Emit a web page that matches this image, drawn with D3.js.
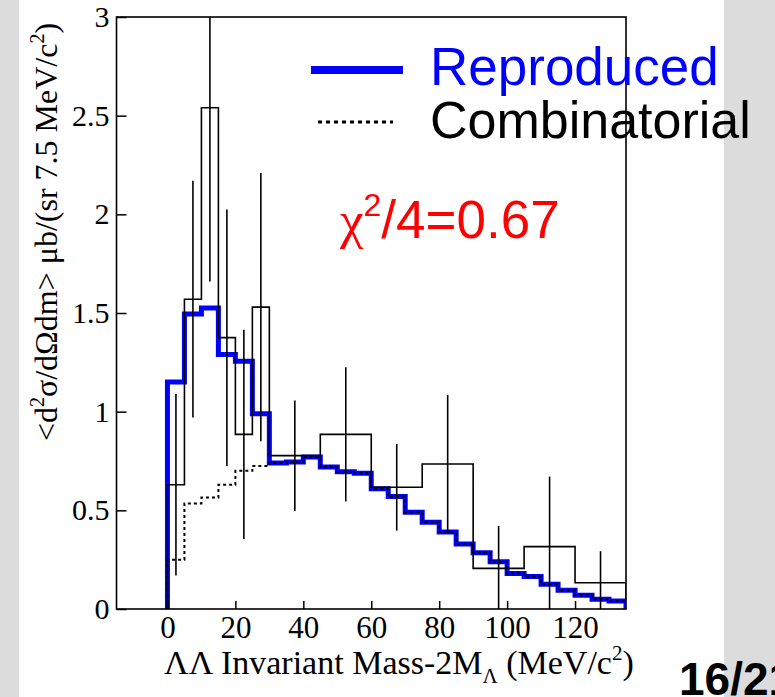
<!DOCTYPE html>
<html>
<head>
<meta charset="utf-8">
<script src="https://cdn.jsdelivr.net/npm/d3@7"></script>
<style>
  body { margin: 0; background: #fff; }
  svg { display: block; }
  .serif { font-family: "Liberation Serif", "Times New Roman", serif; }
  .sans { font-family: "Liberation Sans", Arial, sans-serif; }
</style>
</head>
<body>
<div id="chart"></div>
<script>
// Measured data: bin edges (MeV/c^2), cross sections, errors
const dataEdges = [0, 5, 10, 15, 20, 25, 30, 45, 60, 75, 90, 105, 120, 135];
const dataValues = [0.63, 1.57, 2.54, 1.375, 0.885, 1.53, 0.777, 0.885, 0.617, 0.735, 0.206, 0.316, 0.133];
const dataErrors = [0.46, 0.60, 0.88, 0.65, 0.53, 0.68, 0.28, 0.34, 0.22, 0.35, 0.215, 0.355, 0.16];

// Model curves, 5 MeV bins from 0 to 135
const modelEdges = d3.range(0, 140, 5);
const reproduced = [1.15, 1.495, 1.525, 1.29, 1.255, 0.99, 0.74, 0.745, 0.77, 0.72, 0.695, 0.688,
    0.61, 0.57, 0.49, 0.44, 0.39, 0.33, 0.285, 0.24, 0.18, 0.165, 0.125, 0.095, 0.07, 0.05, 0.04];
const combinatorial = [0.25, 0.535, 0.565, 0.63, 0.70, 0.725, 0.74, 0.745, 0.77, 0.72, 0.695, 0.688,
    0.61, 0.57, 0.49, 0.44, 0.39, 0.33, 0.285, 0.24, 0.18, 0.165, 0.125, 0.095, 0.07, 0.05, 0.04];

const xTicks = [0, 20, 40, 60, 80, 100, 120];
const yTicks = [0, 0.5, 1, 1.5, 2, 2.5, 3];

const W = 775, H = 697;
const frame = { left: 116.5, right: 626, top: 17, bottom: 609 };

const svg = d3.select("#chart").append("svg")
    .attr("width", W)
    .attr("height", H);

// slide background: grey strips left and right
svg.append("rect").attr("x", 0).attr("y", 0).attr("width", 19).attr("height", H).attr("fill", "#dcdcdc");
svg.append("rect").attr("x", 724).attr("y", 0).attr("width", W - 724).attr("height", H).attr("fill", "#dcdcdc");

const x = d3.scaleLinear().domain([-15, 135]).range([frame.left, frame.right]);
const y = d3.scaleLinear().domain([0, 3]).range([frame.bottom, frame.top]);

svg.append("clipPath").attr("id", "plotclip")
    .append("rect")
    .attr("x", frame.left).attr("y", frame.top)
    .attr("width", frame.right - frame.left)
    .attr("height", frame.bottom - frame.top);

const plot = svg.append("g").attr("clip-path", "url(#plotclip)");

// turn edges + contents into a closed step outline
function steps(edges, vals) {
    const pts = [[edges[0], 0]];
    vals.forEach((v, i) => {
        pts.push([edges[i], v]);
        pts.push([edges[i + 1], v]);
    });
    pts.push([edges[edges.length - 1], 0]);
    return pts;
}

const line = d3.line().x(d => x(d[0])).y(d => y(d[1]));

// Reproduced (blue, thick)
plot.append("path")
    .attr("d", line(steps(modelEdges, reproduced)))
    .attr("fill", "none")
    .attr("stroke", "#0000ff")
    .attr("stroke-width", 5)
    .attr("stroke-linejoin", "miter");

// Data histogram
plot.append("path")
    .attr("d", line(steps(dataEdges, dataValues)))
    .attr("fill", "none")
    .attr("stroke", "#000")
    .attr("stroke-width", 1.6);

// Error bars
plot.selectAll(".err")
    .data(dataValues)
    .enter().append("line")
    .attr("class", "err")
    .attr("x1", (d, i) => x((dataEdges[i] + dataEdges[i + 1]) / 2))
    .attr("x2", (d, i) => x((dataEdges[i] + dataEdges[i + 1]) / 2))
    .attr("y1", (d, i) => y(d + dataErrors[i]))
    .attr("y2", (d, i) => y(d - dataErrors[i]))
    .attr("stroke", "#000")
    .attr("stroke-width", 1.6);

// Combinatorial (dotted, on top)
plot.append("path")
    .attr("d", line(steps(modelEdges, combinatorial)))
    .attr("fill", "none")
    .attr("stroke", "#000")
    .attr("stroke-width", 2)
    .attr("stroke-dasharray", "3,3");

// Axes with inward ticks
const yAxis = svg.append("g")
    .attr("transform", `translate(${frame.left},0)`)
    .call(d3.axisLeft(y).tickValues(yTicks).tickFormat(d => d)
        .tickSizeInner(-10).tickSizeOuter(0).tickPadding(7));
yAxis.select(".domain").remove();
yAxis.selectAll("line").attr("stroke", "#000").attr("stroke-width", 1.5);
yAxis.selectAll("text").attr("class", "serif").attr("font-size", 30).attr("fill", "#000");

const xAxis = svg.append("g")
    .attr("transform", `translate(0,${frame.bottom})`)
    .call(d3.axisBottom(x).tickValues(xTicks).tickFormat(d => d)
        .tickSizeInner(-8).tickSizeOuter(0).tickPadding(7));
xAxis.select(".domain").remove();
xAxis.selectAll("line").attr("stroke", "#000").attr("stroke-width", 1.5);
xAxis.selectAll("text").attr("class", "serif").attr("font-size", 31).attr("fill", "#000");

// Frame
svg.append("rect")
    .attr("x", frame.left).attr("y", frame.top)
    .attr("width", frame.right - frame.left)
    .attr("height", frame.bottom - frame.top)
    .attr("fill", "none")
    .attr("stroke", "#000")
    .attr("stroke-width", 1.6);

// Axis titles
const xt = svg.append("text").attr("class", "serif")
    .attr("x", 164).attr("y", 674)
    .attr("font-size", 34).attr("fill", "#000");
xt.append("tspan").text("ΛΛ Invariant Mass-2M");
xt.append("tspan").attr("font-size", 21).attr("dy", 9).text("Λ");
xt.append("tspan").attr("dy", -9).text(" (MeV/c");
xt.append("tspan").attr("font-size", 21).attr("dy", -14).text("2");
xt.append("tspan").attr("dy", 14).text(")");

const yt = svg.append("text").attr("class", "serif")
    .attr("transform", "translate(57,232) rotate(-90)")
    .attr("text-anchor", "middle")
    .attr("font-size", 32).attr("fill", "#000");
yt.append("tspan").text("<d");
yt.append("tspan").attr("font-size", 20).attr("dy", -13).text("2");
yt.append("tspan").attr("dy", 13).text("σ/dΩdm> μb/(sr 7.5 MeV/c");
yt.append("tspan").attr("font-size", 20).attr("dy", -13).text("2");
yt.append("tspan").attr("dy", 13).text(")");

// Legend
svg.append("line")
    .attr("x1", 311).attr("x2", 403).attr("y1", 70).attr("y2", 70)
    .attr("stroke", "#0000ff").attr("stroke-width", 8);
svg.append("text").attr("class", "sans")
    .attr("x", 430).attr("y", 85)
    .attr("font-size", 53).attr("fill", "#0000ff")
    .text("Reproduced");
svg.append("line")
    .attr("x1", 318).attr("x2", 393).attr("y1", 122).attr("y2", 122)
    .attr("stroke", "#000").attr("stroke-width", 3)
    .attr("stroke-dasharray", "4,4");
svg.append("text").attr("class", "sans")
    .attr("x", 430).attr("y", 138)
    .attr("font-size", 52).attr("fill", "#000")
    .text("Combinatorial");

// Chi-square annotation
const chi = svg.append("text").attr("class", "sans")
    .attr("x", 340).attr("y", 238)
    .attr("font-size", 53).attr("fill", "#ff0000");
chi.append("tspan").attr("class", "serif").text("χ");
chi.append("tspan").attr("font-size", 32).attr("dy", -22).text("2");
chi.append("tspan").attr("dy", 22).text("/4=0.67");

// Page number (runs off the slide edge, as in the source)
svg.append("text").attr("class", "sans")
    .attr("x", 679).attr("y", 695)
    .attr("font-size", 46).attr("font-weight", "bold").attr("fill", "#000")
    .text("16/21");
</script>
</body>
</html>
